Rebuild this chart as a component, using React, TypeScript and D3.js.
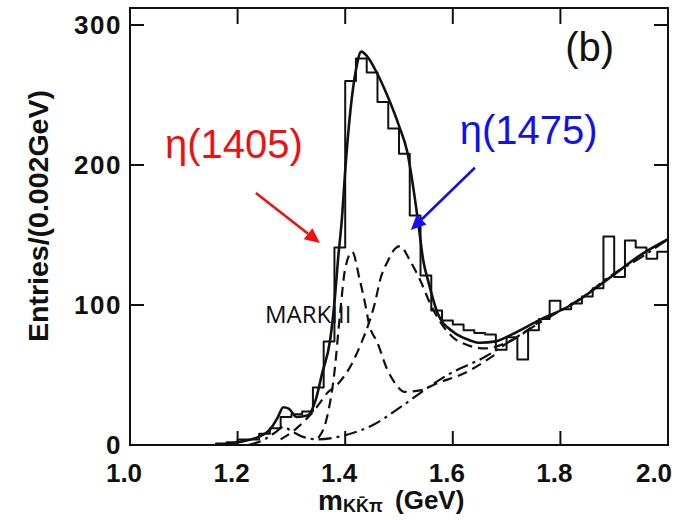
import React from "react";
import * as d3 from "d3";

// Histogram: lower bin edges (GeV) and entries
const binLow = [1.16,1.18,1.20,1.22,1.24,1.26,1.28,1.30,1.32,1.34,1.36,1.38,1.40,1.42,1.44,1.46,1.48,1.50,1.52,1.54,1.56,1.58,1.60,1.62,1.64,1.66,1.68,1.70,1.72,1.74,1.76,1.78,1.80,1.82,1.84,1.86,1.88,1.90,1.92,1.94,1.96,1.98];
const binCounts = [1,2,4,4,8,12,20,22,24,41,74,141,260,276,266,245,226,208,164,121,96,89,86,82,80,79,68,77,61,82,90,103,97,101,106,112,149,120,146,141,133,138];
const binWidth = 0.02;

// Total fit (solid)
const fitMass = [1.16,1.20,1.24,1.26,1.275,1.285,1.295,1.31,1.33,1.345,1.357,1.372,1.381,1.387,1.394,1.40,1.41,1.42,1.43,1.44,1.46,1.48,1.50,1.515,1.535,1.545,1.555,1.572,1.60,1.63,1.65,1.68,1.71,1.76,1.82,1.89,1.95,2.0];
const fitValue = [0,2,6,11,20,27,26,20,21,32,51,75,106,134,162,196,240,268,281,278,265,248,228,210,161,132,116,94,81,75,73,74,79,89,100,119,136,147];

// Background (dash-dot)
const bkgMass = [1.22,1.25,1.27,1.285,1.30,1.32,1.35,1.40,1.45,1.51,1.55,1.59,1.66,1.71,1.76,1.85,1.89,1.95,2.0];
const bkgValue = [0,4,9,13,10,6,4,7,14,29,40,50,63,75,87,108,120,134,147];

// eta(1405) component + background (dashed)
const p1Mass = [1.35,1.365,1.38,1.39,1.40,1.413,1.427,1.437,1.444,1.46,1.478,1.495,1.51,1.54,1.57,1.62,1.68];
const p1Value = [5,18,52,92,126,138,118,101,87,73,54,43,38,39,44,51,65];

// eta(1475) component + background (dashed)
const p2Mass = [1.28,1.31,1.347,1.366,1.385,1.415,1.43,1.444,1.455,1.465,1.48,1.492,1.502,1.52,1.539,1.558,1.58,1.60,1.63,1.66,1.70,1.76];
const p2Value = [4,12,27,37,43,60,73,87,101,118,132,140,142,132,118,101,86,77,71,69,73,88];

const xTicks = [1.0,1.2,1.4,1.6,1.8,2.0];
const yTicks = [0,100,200,300];

const W = 677, H = 520;

export default function App() {
  const x = d3.scaleLinear().domain([1, 2]).range([130, 668]);
  const y = d3.scaleLinear().domain([0, 300]).range([445, 25]);
  const top = 8, bottom = 445, left = 130, right = 668;

  const histPts: [number, number][] = binLow.map((m, i) => [m, binCounts[i]]);
  histPts.push([binLow[binLow.length - 1] + binWidth, binCounts[binCounts.length - 1]]);
  const histLine = d3.line<[number, number]>().x(d => x(d[0])).y(d => y(d[1])).curve(d3.curveStepAfter);
  const histPath = `M${x(binLow[0])},${y(0)}L` + histLine(histPts)!.slice(1);

  const smooth = d3.line<[number, number]>().x(d => x(d[0])).y(d => y(d[1])).curve(d3.curveMonotoneX);
  const zip = (a: number[], b: number[]) => a.map((v, i) => [v, b[i]] as [number, number]);

  const axisFont = "'Liberation Sans', Arial, sans-serif";

  const arrow = (x1: number, y1: number, x2: number, y2: number, color: string) => {
    const ang = Math.atan2(y2 - y1, x2 - x1);
    const len = 15, hw = 7;
    const bx = x2 - len * Math.cos(ang), by = y2 - len * Math.sin(ang);
    const p1 = [bx + hw * Math.sin(ang), by - hw * Math.cos(ang)];
    const p2 = [bx - hw * Math.sin(ang), by + hw * Math.cos(ang)];
    return (
      <g>
        <line x1={x1} y1={y1} x2={bx} y2={by} stroke={color} strokeWidth={2.6} />
        <polygon points={`${x2},${y2} ${p1[0]},${p1[1]} ${p2[0]},${p2[1]}`} fill={color} />
      </g>
    );
  };

  return (
    <svg width={W} height={H} style={{ position: "absolute", left: 0, top: 0, background: "#fff" }}>
      <rect x={0} y={0} width={W} height={H} fill="#fff" />
      <defs>
        <clipPath id="plot"><rect x={left} y={top} width={right - left} height={bottom - top} /></clipPath>
      </defs>
      <g clipPath="url(#plot)" fill="none" stroke="#111" strokeLinejoin="round">
        <path d={histPath} strokeWidth={2} />
        <path d={smooth(zip(fitMass, fitValue))!} strokeWidth={2.6} />
        <path d={smooth(zip(bkgMass, bkgValue))!} strokeWidth={2.2} strokeDasharray="13,5,3,5" />
        <path d={smooth(zip(p1Mass, p1Value))!} strokeWidth={2.2} strokeDasharray="10,6" />
        <path d={smooth(zip(p2Mass, p2Value))!} strokeWidth={2.2} strokeDasharray="10,6" />
      </g>
      {/* frame */}
      <rect x={left} y={top} width={right - left} height={bottom - top} fill="none" stroke="#111" strokeWidth={2} />
      {xTicks.filter(t => t > 1 && t < 2).map(t => (
        <g key={"xt" + t} stroke="#111" strokeWidth={2}>
          <line x1={x(t)} x2={x(t)} y1={bottom} y2={bottom - 14} />
          <line x1={x(t)} x2={x(t)} y1={top} y2={top + 16} />
        </g>
      ))}
      {yTicks.filter(t => t > 0).map(t => (
        <g key={"yt" + t} stroke="#111" strokeWidth={2}>
          <line x1={left} x2={left + 14} y1={y(t)} y2={y(t)} />
          <line x1={right} x2={right - 14} y1={y(t)} y2={y(t)} />
        </g>
      ))}
      {xTicks.map(t => (
        <text key={"xl" + t} x={Math.min(x(t) - 6, 654)} y={482} textAnchor="middle" fontFamily={axisFont} fontWeight="bold" fontSize={26} fill="#111">
          {t.toFixed(1)}
        </text>
      ))}
      {yTicks.map(t => (
        <text key={"yl" + t} x={122} y={y(t) + 9} textAnchor="end" fontFamily={axisFont} fontWeight="bold" fontSize={26} letterSpacing={1.5} fill="#111">
          {t}
        </text>
      ))}
      <text transform="translate(48,216) rotate(-90)" textAnchor="middle" fontFamily={axisFont} fontWeight="bold" fontSize={27} textLength={252} lengthAdjust="spacingAndGlyphs" fill="#111">
        Entries/(0.002GeV)
      </text>
      <text y={510} fontFamily={axisFont} fontWeight="bold" fill="#111">
        <tspan x={318} fontSize={28}>m</tspan>
        <tspan fontSize={18} dy={2}>KK̄π</tspan>
        <tspan x={395} fontSize={26} dy={-3}>(GeV)</tspan>
      </text>

      {/* annotations */}
      <text x={x(1.809)} y={y(274)} fontFamily="'Liberation Sans', Arial, sans-serif" fontSize={40} fill="#111">(b)</text>
      <text x={x(1.065)} y={y(205)} fontFamily="'Liberation Sans', Arial, sans-serif" fontSize={40} fill="#ee1111">η(1405)</text>
      <text x={x(1.613)} y={y(215)} fontFamily="'Liberation Sans', Arial, sans-serif" fontSize={40} fill="#1111ee">η(1475)</text>
      <text x={x(1.251)} y={y(87)} fontFamily="'Open Sans', 'Noto Sans', sans-serif" fontSize={24} fill="#111">MARKIII</text>
      {arrow(x(1.234), y(180), x(1.353), y(144.3), "#ee1111")}
      {arrow(x(1.641), y(198), x(1.522), y(153.6), "#1111ee")}
    </svg>
  );
}
